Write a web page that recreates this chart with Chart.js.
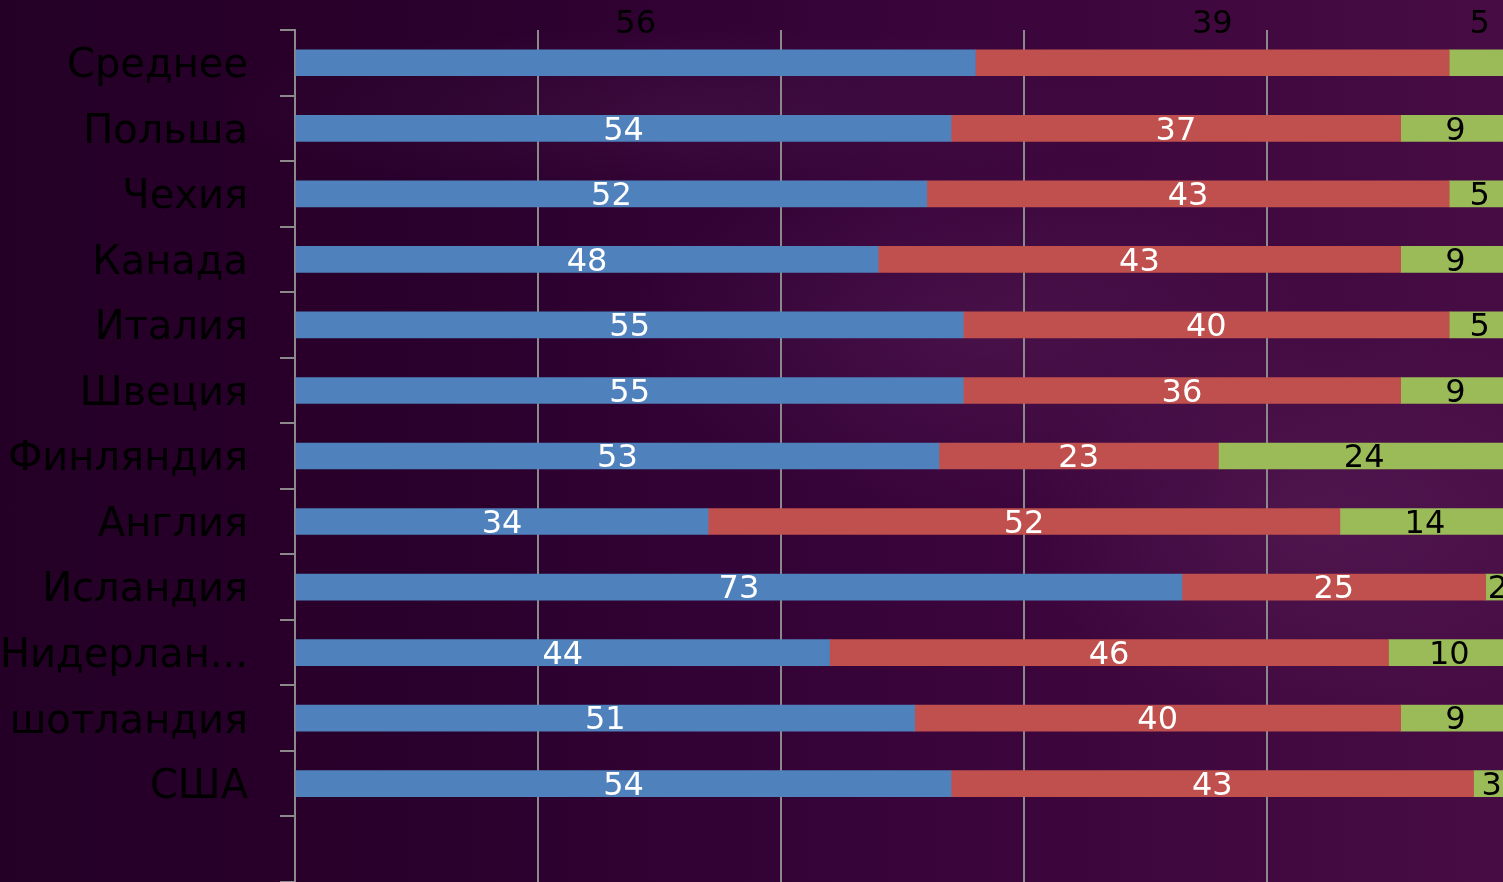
<!DOCTYPE html>
<html>
<head>
<meta charset="utf-8">
<script src="https://cdn.jsdelivr.net/npm/chart.js@4"></script>
<style>
  html, body { margin: 0; padding: 0; overflow: hidden; width: 1503px; height: 882px; }
  body {
    position: relative;
    background:
      radial-gradient(ellipse 500px 260px at 980px 330px, rgba(120,60,120,0.22), rgba(0,0,0,0) 70%),
      radial-gradient(ellipse 420px 300px at 1320px 520px, rgba(130,70,130,0.2), rgba(0,0,0,0) 70%),
      radial-gradient(ellipse 700px 120px at 700px 110px, rgba(120,70,120,0.15), rgba(0,0,0,0) 70%),
      linear-gradient(90deg, #240026 0%, #2a002c 30%, #38043a 60%, #470c44 100%);
  }
  #wrap { position: absolute; left: 0; top: -26px; width: 1512px; height: 964px; }
</style>
</head>
<body>
<div id="wrap"><canvas id="c" width="1512" height="964"></canvas></div>
<script>
const categories = ["Среднее", "Польша", "Чехия", "Канада", "Италия", "Швеция", "Финляндия", "Англия", "Исландия", "Нидерлан...", "шотландия", "США", ""];
const seriesBlue  = [56, 54, 52, 48, 55, 55, 53, 34, 73, 44, 51, 54, null];
const seriesRed   = [39, 37, 43, 43, 40, 36, 23, 52, 25, 46, 40, 43, null];
const seriesGreen = [5, 9, 5, 9, 5, 9, 24, 14, 2, 10, 9, 3, null];

const labelPlugin = {
  id: 'segLabels',
  afterDatasetsDraw(chart) {
    const ctx = chart.ctx;
    ctx.save();
    ctx.font = '32px "DejaVu Sans"';
    ctx.textAlign = 'center';
    ctx.textBaseline = 'middle';
    chart.data.datasets.forEach((ds, di) => {
      const meta = chart.getDatasetMeta(di);
      meta.data.forEach((bar, i) => {
        const v = ds.data[i];
        if (v === null || v === undefined) return;
        const x = (bar.x + bar.base) / 2;
        let y = bar.y + 3;
        let color = di === 2 ? '#000000' : '#ffffff';
        if (i === 0) { y = bar.y - 38; color = '#000000'; }
        ctx.fillStyle = color;
        ctx.fillText(String(v), x, y);
      });
    });
    ctx.restore();
  }
};

new Chart(document.getElementById('c'), {
  type: 'bar',
  data: {
    labels: categories,
    datasets: [
      { label: 'A', data: seriesBlue, backgroundColor: '#4F81BD', barThickness: 26 },
      { label: 'B', data: seriesRed, backgroundColor: '#C0504D', barThickness: 26 },
      { label: 'C', data: seriesGreen, backgroundColor: '#9BBB59', barThickness: 26 }
    ]
  },
  options: {
    indexAxis: 'y',
    responsive: false,
    animation: false,
    devicePixelRatio: 1,
    layout: { padding: { top: 28, right: 2, bottom: 2, left: 0 } },
    plugins: { legend: { display: false }, tooltip: { enabled: false } },
    scales: {
      x: {
        stacked: true, min: 0, max: 100,
        ticks: { display: false, stepSize: 20 },
        grid: { color: '#8a8a8a', lineWidth: 2, drawTicks: false },
        border: { display: false }
      },
      y: {
        stacked: true,
        afterFit(scale) { scale.width = 295; },
        ticks: { color: '#000000', font: { family: 'DejaVu Sans', size: 40 }, padding: 32, autoSkip: false, labelOffset: 4 },
        grid: { drawOnChartArea: false, drawTicks: true, tickLength: 15, color: '#8a8a8a', lineWidth: 2 },
        border: { color: '#8a8a8a', width: 2 }
      }
    }
  },
  plugins: [labelPlugin]
});
</script>
</body>
</html>
